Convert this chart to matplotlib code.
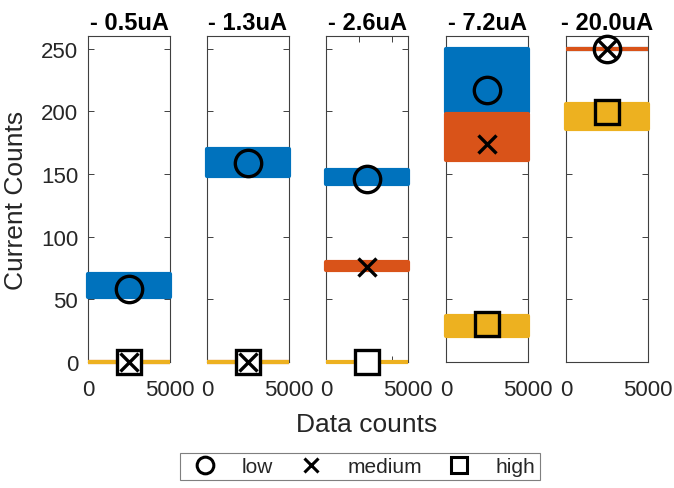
import matplotlib
matplotlib.use("Agg")
import matplotlib.pyplot as plt
from matplotlib.lines import Line2D

plt.rcParams['font.family'] = ['Liberation Sans', 'DejaVu Sans']

# ---------------- data ----------------
titles = ['- 0.5uA', '- 1.3uA', '- 2.6uA', '- 7.2uA', '- 20.0uA']
series_names = ['low', 'medium', 'high']
series_colors = ['#0072BD', '#D95319', '#EDB120']

# band extents (min / max of the scattered current counts) per subplot
low_min = [52, 148, 142, 199, 250]
low_max = [70, 170, 153, 250, 250]
medium_min = [0, 0, 73, 161, 250]
medium_max = [0, 0, 80, 198, 250]
high_min = [0, 0, 0, 21, 186]
high_max = [0, 0, 0, 37, 206]

# mean values (markers)
low_mean = [58, 159, 146, 217, 250]
medium_mean = [0, 0, 76, 174, 250]
high_mean = [0, 0, 0, 30, 199]

data_start = 0
data_end = 5000
marker_x = 2500

xticks_default = [0, 5000]
xticklabels_default = ['0', '5000']
xticks_third = [0, 2000, 4000, 5000]
xticklabels_third = ['0', '', '', '5000']
yticks = [0, 50, 100, 150, 200, 250]

# ---------------- figure ----------------
W, H = 674, 489
fig = plt.figure(figsize=(W / 100, H / 100), dpi=100)

lefts_px = [88, 207, 326, 446, 566]
ax_w_px = 82
top_px, bot_px = 37, 363

mins = [low_min, medium_min, high_min]
maxs = [low_max, medium_max, high_max]
means = [low_mean, medium_mean, high_mean]
markers = ['o', 'x', 's']
msizes = [19, 13, 17]
zorders = [5, 7, 6]

axes_color = '#404040'
text_color = '#262626'

for i, title in enumerate(titles):
    ax = fig.add_axes([lefts_px[i] / W, 1 - bot_px / H,
                       ax_w_px / W, (bot_px - top_px) / H])
    ax.set_xlim(0, 5000)
    ax.set_ylim(0, 260)

    for s in range(3):
        ax.fill_between([data_start, data_end], [mins[s][i]] * 2, [maxs[s][i]] * 2,
                        facecolor=series_colors[s], edgecolor=series_colors[s],
                        linewidth=3.0, clip_on=False, zorder=2 + s)

    for s in range(3):
        face = 'none'
        if markers[s] == 's' and means[s][i] == 0:
            face = 'white'
        ax.plot([marker_x], [means[s][i]], marker=markers[s], ls='none',
                mfc=face, mec='black', mew=2.4, ms=msizes[s],
                clip_on=False, zorder=zorders[s])

    if i == 2:
        ax.set_xticks(xticks_third)
        ax.set_xticklabels(xticklabels_third)
    else:
        ax.set_xticks(xticks_default)
        ax.set_xticklabels(xticklabels_default)
    ax.set_yticks(yticks)
    if i != 0:
        ax.set_yticklabels([])

    ax.tick_params(direction='in', length=4, width=0.7, color=axes_color,
                   labelsize=16, labelcolor=text_color, top=True, right=True)
    ax.tick_params(axis='x', pad=12)
    ax.tick_params(axis='y', pad=7)
    for sp in ax.spines.values():
        sp.set_color(axes_color)
        sp.set_linewidth(0.8)
        sp.set_zorder(1)

    ax.set_title(title, fontsize=17, fontweight='bold', pad=5, color='black')

fig.text(16 / W, 0.59, 'Current Counts', rotation=90, ha='center', va='center',
         fontsize=19, color=text_color)
fig.text(367 / W, 1 - 432.5 / H, 'Data counts', ha='center', va='baseline',
         fontsize=19, color=text_color)

handles = [
    Line2D([], [], marker='o', ls='none', mfc='none', mec='black', mew=2.2, ms=12),
    Line2D([], [], marker='x', ls='none', mfc='none', mec='black', mew=2.2, ms=10),
    Line2D([], [], marker='s', ls='none', mfc='none', mec='black', mew=2.2, ms=11),
]
leg = fig.legend(handles, series_names, loc='center', bbox_to_anchor=(360 / W, 1 - 467.5 / H),
                 ncol=3, fontsize=15, frameon=True, fancybox=False, edgecolor='#7f7f7f',
                 framealpha=1, borderpad=0.2, handletextpad=0.75, columnspacing=0.8,
                 handlelength=2.0, borderaxespad=0)
leg.get_frame().set_linewidth(0.8)
for t in leg.get_texts():
    t.set_color(text_color)

fig.savefig('out.png', dpi=100)
